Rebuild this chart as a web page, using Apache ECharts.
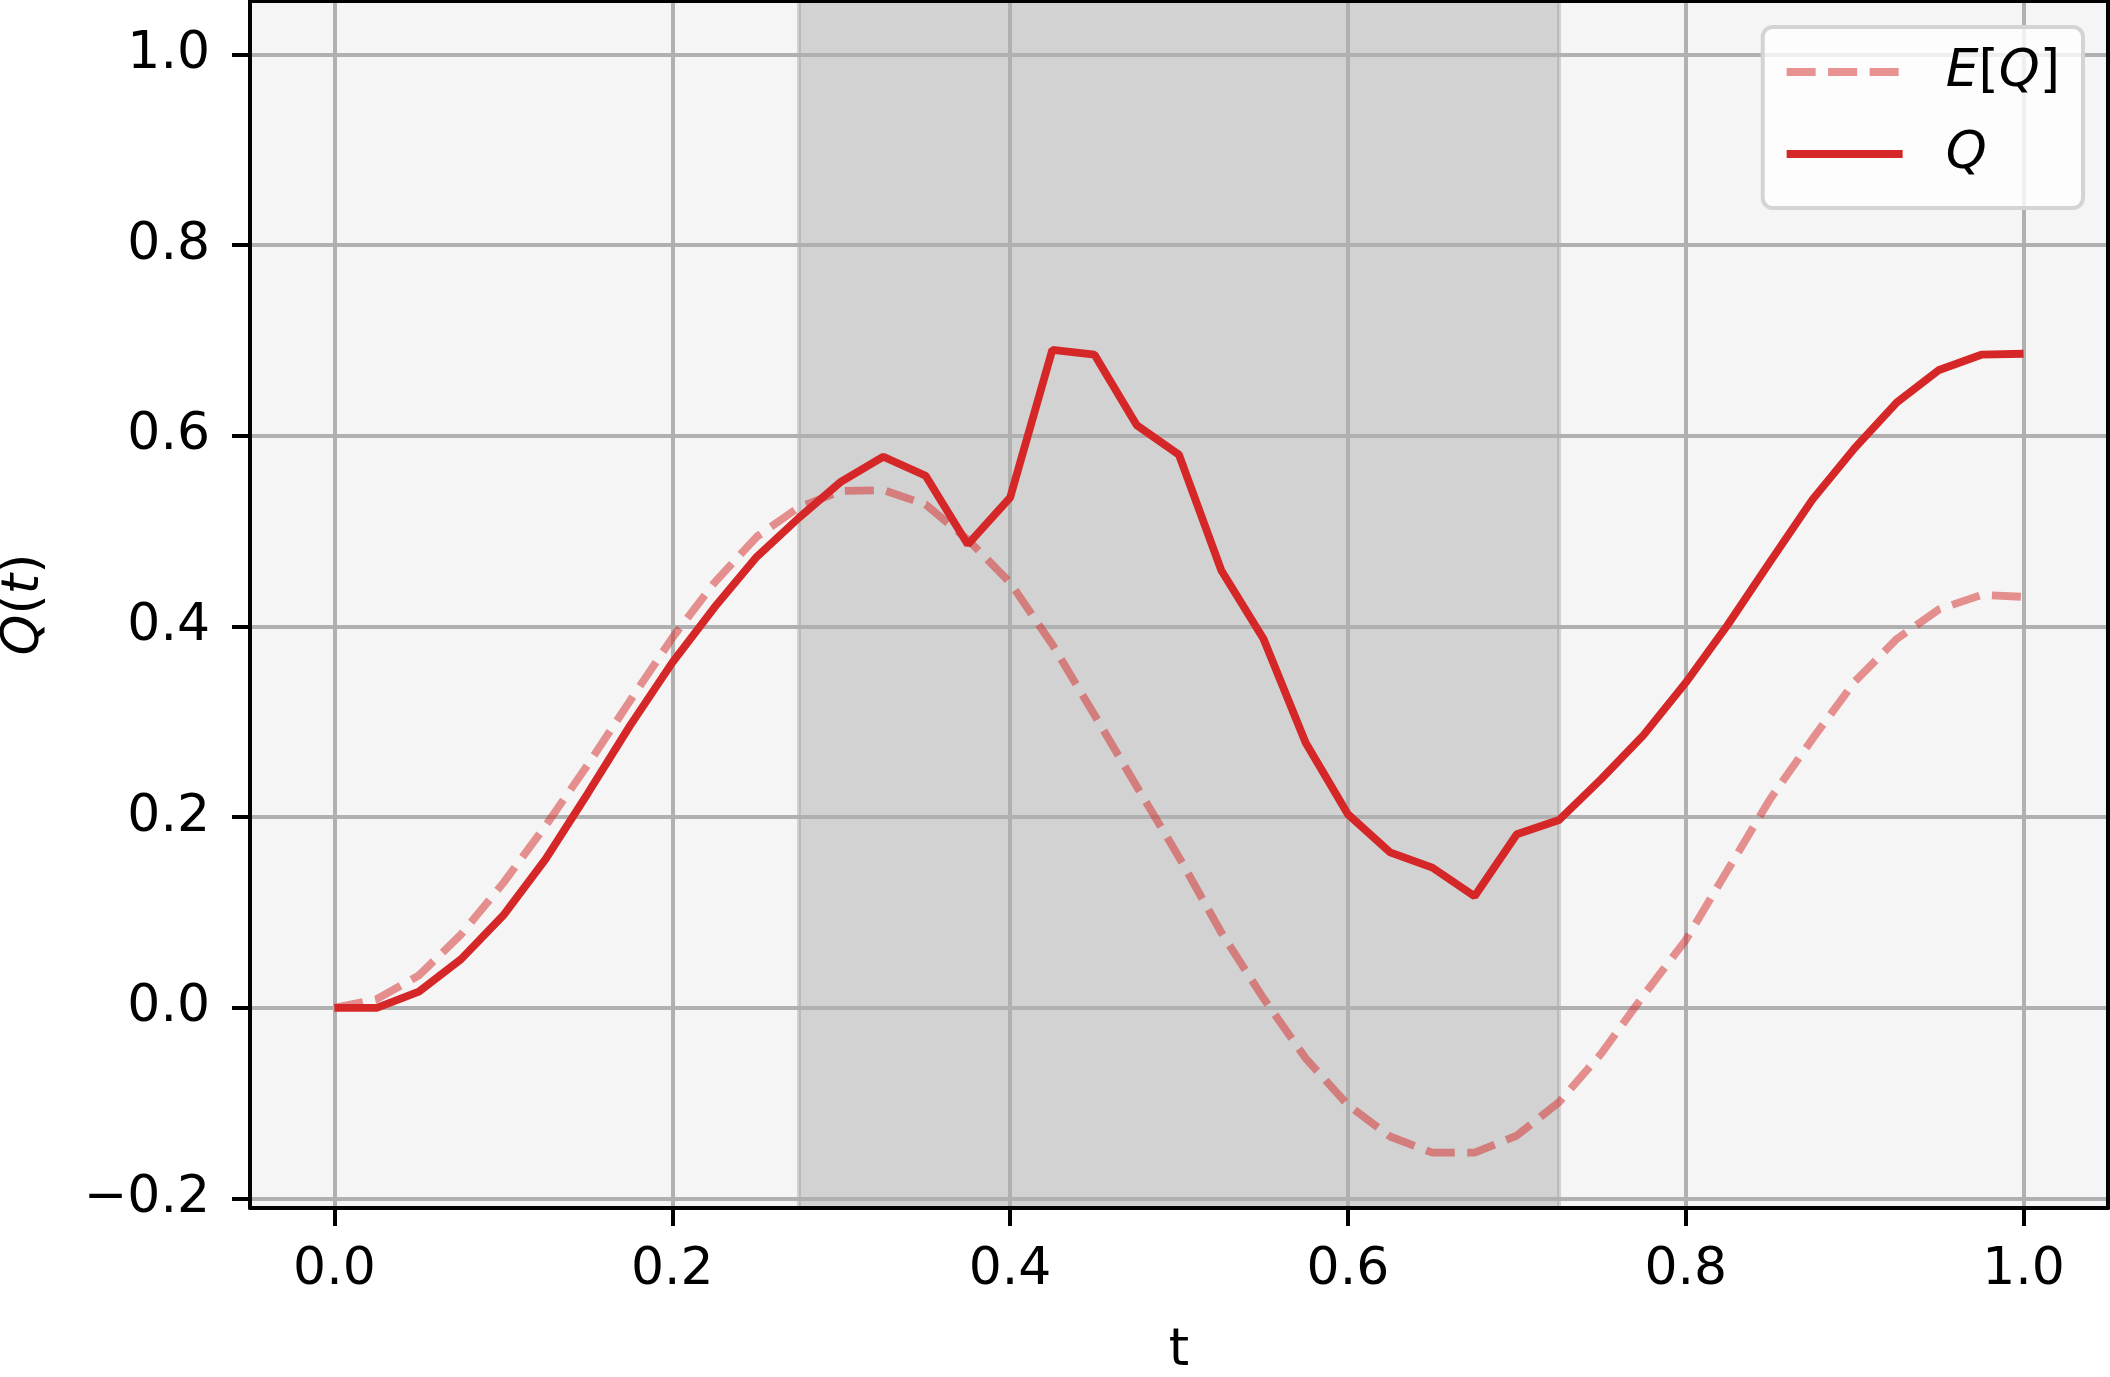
<!DOCTYPE html>
<html>
<head>
<meta charset="utf-8">
<title>Q(t)</title>
<script src="https://cdn.jsdelivr.net/npm/echarts@6/dist/echarts.min.js"></script>
<style>
html, body { margin: 0; padding: 0; background: #ffffff; }
#chart { width: 2110px; height: 1377px; }
</style>
</head>
<body>
<div id="chart"></div>
<script>
// sample times
var tValues = [0, 0.025, 0.05, 0.075, 0.1, 0.125, 0.15, 0.175, 0.2, 0.225,
    0.25, 0.275, 0.3, 0.325, 0.35, 0.375, 0.4, 0.425, 0.45, 0.475,
    0.5, 0.525, 0.55, 0.575, 0.6, 0.625, 0.65, 0.675, 0.7, 0.725,
    0.75, 0.775, 0.8, 0.825, 0.85, 0.875, 0.9, 0.925, 0.95, 0.975, 1.0];

// observed Q
var qValues = [0, 0, 0.017, 0.051, 0.097, 0.156, 0.225, 0.296, 0.362, 0.420,
    0.473, 0.514, 0.552, 0.578, 0.558, 0.486, 0.535, 0.690, 0.685, 0.611,
    0.580, 0.459, 0.387, 0.278, 0.203, 0.163, 0.147, 0.117, 0.182, 0.197,
    0.240, 0.286, 0.341, 0.402, 0.468, 0.533, 0.587, 0.635, 0.669, 0.685, 0.686];

// expectation E[Q]
var eqValues = [0, 0.009, 0.034, 0.077, 0.131, 0.191, 0.255, 0.322, 0.388, 0.446,
    0.494, 0.525, 0.542, 0.543, 0.528, 0.491, 0.446, 0.381, 0.307, 0.232,
    0.158, 0.079, 0.010, -0.053, -0.102, -0.135, -0.152, -0.152, -0.134, -0.099,
    -0.048, 0.013, 0.071, 0.145, 0.219, 0.282, 0.342, 0.387, 0.418, 0.433, 0.431];

var xTicks = [0, 0.2, 0.4, 0.6, 0.8, 1.0];
var yTicks = [-0.2, 0, 0.2, 0.4, 0.6, 0.8, 1.0];
var shadeRange = [0.275, 0.725];

var FONT = 'DejaVu Sans';
var RED = '#d62728';

function pairs(ys) {
    return tValues.map(function (t, i) { return [t, ys[i]]; });
}
function fmt(v) {
    return (v < 0 ? '\u2212' : '') + Math.abs(v).toFixed(1);
}

var gridLines = [];
xTicks.forEach(function (v) { gridLines.push({ xAxis: v }); });
yTicks.forEach(function (v) { gridLines.push({ yAxis: v }); });

var spine = { show: true, onZero: false, lineStyle: { color: '#000', width: 4 } };

var mainAxis = function (ticks, min, max) {
    return {
        type: 'value', min: min, max: max, z: 20,
        axisLine: spine,
        axisTick: { show: true, inside: false, length: 18, customValues: ticks,
            lineStyle: { color: '#000', width: 4 } },
        axisLabel: { customValues: ticks, formatter: fmt, color: '#000',
            fontFamily: FONT, fontSize: 52 },
        splitLine: { show: false }
    };
};
var frameAxis = function (pos, min, max) {
    return {
        type: 'value', position: pos, min: min, max: max, z: 20,
        axisLine: spine, axisTick: { show: false }, axisLabel: { show: false },
        splitLine: { show: false }
    };
};

var xMain = mainAxis(xTicks, -0.05, 1.05);
xMain.name = 't';
xMain.nameLocation = 'middle';
xMain.nameGap = 117;
xMain.nameTextStyle = { fontFamily: FONT, fontSize: 52, color: '#000' };
xMain.axisLabel.margin = 36;

var yMain = mainAxis(yTicks, -0.21, 1.056);
yMain.name = '{i|Q}({i|t})';
yMain.nameLocation = 'middle';
yMain.nameRotate = 90;
yMain.nameGap = 200;
yMain.nameTextStyle = { fontFamily: FONT, fontSize: 52, color: '#000',
    rich: { i: { fontStyle: 'italic', fontFamily: FONT, fontSize: 52, color: '#000' } } };
yMain.axisLabel.margin = 40;

var chart = echarts.init(document.getElementById('chart'), null, { renderer: 'canvas' });
chart.setOption({
    animation: false,
    backgroundColor: '#ffffff',
    grid: { left: 250, right: 2, top: 1, bottom: 169, show: true,
        outerBoundsMode: 'none', containLabel: false,
        backgroundColor: '#f5f5f5', borderWidth: 0 },
    xAxis: [xMain, frameAxis('top', -0.05, 1.05)],
    yAxis: [yMain, frameAxis('right', -0.21, 1.056)],
    legend: {
        data: ['E[Q]', 'Q'],
        orient: 'vertical', right: 27, top: 27, z: 30,
        padding: [19, 23, 28, 20],
        itemWidth: 116, itemHeight: 52, itemGap: 30,
        backgroundColor: 'rgba(255,255,255,0.8)',
        borderColor: '#d4d4d4', borderWidth: 4, borderRadius: 10,
        itemStyle: { color: 'rgba(0,0,0,0)', borderWidth: 0, opacity: 0 },
        lineStyle: { width: 'inherit' },
        formatter: function (name) {
            return name === 'E[Q]' ? '{gap| }{i|E}[{i|Q}]' : '{gap| }{i|Q}';
        },
        textStyle: {
            fontFamily: FONT, fontSize: 52, color: '#000',
            rich: {
                gap: { width: 38, fontSize: 52 },
                i: { fontStyle: 'italic', fontFamily: FONT, fontSize: 52, color: '#000' }
            }
        }
    },
    series: [
        {
            name: 'shade', type: 'line', data: [], silent: true,
            markArea: {
                silent: true, z: 1,
                itemStyle: { color: 'rgba(128,128,128,0.3)',
                    borderColor: 'rgba(128,128,128,0.3)', borderWidth: 4 },
                data: [[{ xAxis: shadeRange[0] }, { xAxis: shadeRange[1] }]]
            }
        },
        {
            name: 'grid', type: 'line', data: [], silent: true,
            markLine: {
                silent: true, z: 2, symbol: ['none', 'none'],
                label: { show: false },
                lineStyle: { color: '#b0b0b0', width: 4, type: 'solid' },
                emphasis: { disabled: true },
                data: gridLines
            }
        },
        {
            name: 'E[Q]', type: 'line', z: 10, data: pairs(eqValues),
            symbol: 'none', smooth: false,
            lineStyle: { color: 'rgba(214,39,40,0.5)', width: 7.8, type: [29, 12.5], cap: 'butt' },
            itemStyle: { color: 'rgba(214,39,40,0.5)' }
        },
        {
            name: 'Q', type: 'line', z: 11, data: pairs(qValues),
            symbol: 'none', smooth: false,
            lineStyle: { color: RED, width: 7.8, type: 'solid' },
            itemStyle: { color: RED }
        }
    ]
});
</script>
</body>
</html>
